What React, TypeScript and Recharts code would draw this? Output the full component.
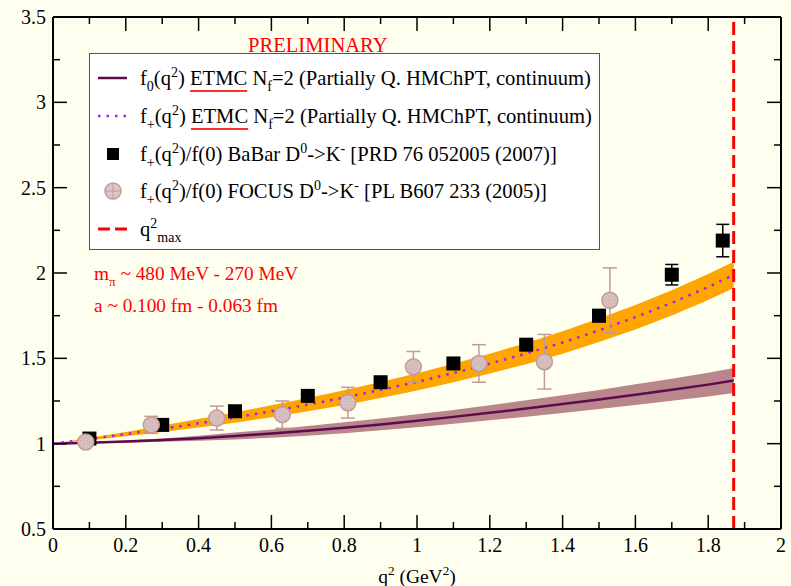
import React from 'react';
import {
  ComposedChart,
  XAxis,
  YAxis,
  Area,
  Line,
  Scatter,
  ErrorBar,
  ReferenceLine,
} from 'recharts';

// curve samples (q^2 in GeV^2)
const q2Grid = [0, 0.1, 0.2, 0.3, 0.4, 0.5, 0.6, 0.7, 0.8, 0.9, 1.0, 1.1, 1.2, 1.3, 1.4, 1.5, 1.6, 1.7, 1.8, 1.87];
const f0Mid = [1.0, 1.005, 1.012, 1.021, 1.032, 1.045, 1.059, 1.075, 1.093, 1.113, 1.134, 1.157, 1.181, 1.206, 1.232, 1.259, 1.287, 1.316, 1.346, 1.37];
const f0Lo = [1.0, 1.002, 1.006, 1.011, 1.017, 1.025, 1.035, 1.047, 1.061, 1.078, 1.096, 1.116, 1.137, 1.158, 1.18, 1.203, 1.226, 1.251, 1.276, 1.297];
const f0Hi = [1.0, 1.008, 1.018, 1.031, 1.047, 1.065, 1.083, 1.103, 1.125, 1.148, 1.172, 1.198, 1.225, 1.254, 1.284, 1.315, 1.348, 1.381, 1.416, 1.443];
const fpMid = [1.0, 1.027, 1.056, 1.087, 1.119, 1.153, 1.19, 1.229, 1.27, 1.315, 1.362, 1.414, 1.469, 1.528, 1.593, 1.664, 1.741, 1.825, 1.918, 1.989];
const fpLo = [1.0, 1.02, 1.043, 1.068, 1.094, 1.123, 1.155, 1.19, 1.227, 1.268, 1.312, 1.36, 1.411, 1.466, 1.527, 1.595, 1.669, 1.751, 1.842, 1.912];
const fpHi = [1.0, 1.034, 1.069, 1.106, 1.144, 1.183, 1.225, 1.268, 1.313, 1.362, 1.412, 1.468, 1.527, 1.59, 1.659, 1.733, 1.813, 1.899, 1.994, 2.066];

// BaBar D0->K-
const babarQ2 = [0.1, 0.3, 0.5, 0.7, 0.9, 1.1, 1.3, 1.5, 1.7, 1.84];
const babarVal = [1.03, 1.11, 1.19, 1.28, 1.36, 1.47, 1.58, 1.75, 1.99, 2.19];
const babarErr = [0.01, 0.01, 0.015, 0.02, 0.02, 0.025, 0.03, 0.035, 0.06, 0.095];

// FOCUS D0->K-
const focusQ2 = [0.09, 0.27, 0.45, 0.63, 0.81, 0.99, 1.17, 1.35, 1.53];
const focusVal = [1.01, 1.11, 1.15, 1.17, 1.24, 1.45, 1.47, 1.48, 1.84];
const focusErr = [0.02, 0.05, 0.07, 0.08, 0.09, 0.09, 0.11, 0.16, 0.19];

const qmax = 1.87;

const xTicks = [0, 0.1, 0.2, 0.3, 0.4, 0.5, 0.6, 0.7, 0.8, 0.9, 1, 1.1, 1.2, 1.3, 1.4, 1.5, 1.6, 1.7, 1.8, 1.9, 2];
const yTicks = [0.5, 0.75, 1, 1.25, 1.5, 1.75, 2, 2.25, 2.5, 2.75, 3, 3.25, 3.5];

const curve = q2Grid.map((q, i) => ({
  q2: q,
  f0: f0Mid[i],
  f0Band: [f0Lo[i], f0Hi[i]],
  fp: fpMid[i],
  fpBand: [fpLo[i], fpHi[i]],
}));
const babar = babarQ2.map((q, i) => ({ q2: q, v: babarVal[i], err: babarErr[i] }));
const focus = focusQ2.map((q, i) => ({ q2: q, v: focusVal[i], err: focusErr[i] }));

const SERIF = "'Liberation Serif', 'Times New Roman', serif";
const BG = '#fffff0';
const F0_COLOR = '#5c0b4f';
const F0_BAND = '#b8868b';
const FP_BAND = '#ffa500';
const FP_DOTS = '#a020f0';
const FOCUS_FILL = '#dcc6c6';
const FOCUS_EDGE = '#c29a9a';

const fmt = (v: number) => String(parseFloat(v.toFixed(2)));
const isMajorX = (v: number) => Math.round(v * 10) % 2 === 0;
const isMajorY = (v: number) => Math.round(v * 4) % 2 === 0;

const BottomTick = (p: any) => {
  const { x, y, payload } = p;
  const major = isMajorX(payload.value);
  return (
    <g>
      <line x1={x} y1={y} x2={x} y2={y - (major ? 14 : 7)} stroke="#000" strokeWidth={1.5} />
      {major && (
        <text x={x} y={y + 23} textAnchor="middle" fontSize={20} fontFamily={SERIF} fill="#000">
          {fmt(payload.value)}
        </text>
      )}
    </g>
  );
};

const TopTick = (p: any) => {
  const { x, y, payload } = p;
  const major = isMajorX(payload.value);
  return <line x1={x} y1={y} x2={x} y2={y + (major ? 14 : 7)} stroke="#000" strokeWidth={1.5} />;
};

const LeftTick = (p: any) => {
  const { x, y, payload } = p;
  const major = isMajorY(payload.value);
  return (
    <g>
      <line x1={x} y1={y} x2={x + (major ? 14 : 7)} y2={y} stroke="#000" strokeWidth={1.5} />
      {major && (
        <text x={x - 7} y={y} dy="0.35em" textAnchor="end" fontSize={20} fontFamily={SERIF} fill="#000">
          {fmt(payload.value)}
        </text>
      )}
    </g>
  );
};

const RightTick = (p: any) => {
  const { x, y, payload } = p;
  const major = isMajorY(payload.value);
  return <line x1={x} y1={y} x2={x - (major ? 14 : 7)} y2={y} stroke="#000" strokeWidth={1.5} />;
};

const SquareDot = (p: any) => {
  const { cx, cy } = p;
  if (cx == null || cy == null) return null;
  return <rect x={cx - 7} y={cy - 7} width={14} height={14} fill="#000" />;
};

const FocusDot = (p: any) => {
  const { cx, cy } = p;
  if (cx == null || cy == null) return null;
  return <circle cx={cx} cy={cy} r={8} fill="url(#hatch)" stroke={FOCUS_EDGE} strokeWidth={1.5} />;
};

const Sub = ({ children }: { children: React.ReactNode }) => (
  <span style={{ fontSize: '0.68em', position: 'relative', top: 6 }}>{children}</span>
);
const Sup = ({ children }: { children: React.ReactNode }) => (
  <span style={{ fontSize: '0.68em', position: 'relative', top: -8 }}>{children}</span>
);
const Etmc = () => (
  <span
    style={{
      textDecoration: 'underline',
      textDecorationColor: '#ff3030',
      textUnderlineOffset: 5,
      textDecorationThickness: 1.5,
    }}
  >
    ETMC
  </span>
);

const legendRows: { center: number; symbol: React.ReactNode; label: React.ReactNode }[] = [
  {
    center: 24,
    symbol: <line x1={0} y1={10} x2={29} y2={10} stroke={F0_COLOR} strokeWidth={2.5} />,
    label: (
      <>
        f<Sub>0</Sub>(q<Sup>2</Sup>) <Etmc /> N<Sub>f</Sub>=2 (Partially Q. HMChPT, continuum)
      </>
    ),
  },
  {
    center: 62,
    symbol: <line x1={0} y1={10} x2={29} y2={10} stroke={FP_DOTS} strokeWidth={2.5} strokeDasharray="2.5 6" />,
    label: (
      <>
        f<Sub>+</Sub>(q<Sup>2</Sup>) <Etmc /> N<Sub>f</Sub>=2 (Partially Q. HMChPT, continuum)
      </>
    ),
  },
  {
    center: 100,
    symbol: <rect x={9} y={4} width={12} height={12} fill="#000" />,
    label: (
      <>
        f<Sub>+</Sub>(q<Sup>2</Sup>)/f(0) BaBar D<Sup>0</Sup>-&gt;K<Sup>-</Sup> [PRD 76 052005 (2007)]
      </>
    ),
  },
  {
    center: 137,
    symbol: (
      <g>
        <circle cx={15} cy={10} r={8} fill={FOCUS_FILL} stroke={FOCUS_EDGE} strokeWidth={1.5} />
        <line x1={7} y1={10} x2={23} y2={10} stroke={FOCUS_EDGE} strokeWidth={1} />
        <line x1={15} y1={2} x2={15} y2={18} stroke={FOCUS_EDGE} strokeWidth={1} />
      </g>
    ),
    label: (
      <>
        f<Sub>+</Sub>(q<Sup>2</Sup>)/f(0) FOCUS D<Sup>0</Sup>-&gt;K<Sup>-</Sup> [PL B607 233 (2005)]
      </>
    ),
  },
  {
    center: 175,
    symbol: (
      <g>
        <line x1={0} y1={10} x2={12} y2={10} stroke="#ff0000" strokeWidth={3} />
        <line x1={17} y1={10} x2={29} y2={10} stroke="#ff0000" strokeWidth={3} />
      </g>
    ),
    label: (
      <>
        q<Sup>2</Sup>
        <Sub>max</Sub>
      </>
    ),
  },
];

export default function App() {
  return (
    <div
      style={{
        position: 'absolute',
        left: 0,
        top: 0,
        width: 791,
        height: 586,
        background: BG,
        fontFamily: SERIF,
        overflow: 'hidden',
      }}
    >
      <ComposedChart width={791} height={586} data={curve} margin={{ top: 0, right: 0, bottom: 0, left: 0 }}>
        <defs>
          <pattern id="hatch" width="3" height="3" patternUnits="userSpaceOnUse">
            <rect width="3" height="3" fill={FOCUS_FILL} />
            <path d="M0 0 L3 3 M3 0 L0 3" stroke="#c9aeae" strokeWidth={0.6} />
          </pattern>
        </defs>
        <XAxis
          dataKey="q2"
          type="number"
          domain={[0, 2]}
          ticks={xTicks}
          interval={0}
          height={57}
          tickSize={0}
          tickMargin={0}
          tick={(p: any) => <BottomTick {...p} />}
          axisLine={{ stroke: '#000', strokeWidth: 2 }}
          allowDataOverflow
        />
        <XAxis
          xAxisId="top"
          dataKey="q2"
          orientation="top"
          type="number"
          domain={[0, 2]}
          ticks={xTicks}
          interval={0}
          height={17}
          tickSize={0}
          tickMargin={0}
          tick={(p: any) => <TopTick {...p} />}
          axisLine={{ stroke: '#000', strokeWidth: 2 }}
          allowDataOverflow
        />
        <YAxis
          type="number"
          domain={[0.5, 3.5]}
          ticks={yTicks}
          interval={0}
          width={53}
          tickSize={0}
          tickMargin={0}
          tick={(p: any) => <LeftTick {...p} />}
          axisLine={{ stroke: '#000', strokeWidth: 2 }}
          allowDataOverflow
        />
        <YAxis
          yAxisId="right"
          orientation="right"
          type="number"
          domain={[0.5, 3.5]}
          ticks={yTicks}
          interval={0}
          width={10}
          tickSize={0}
          tickMargin={0}
          tick={(p: any) => <RightTick {...p} />}
          axisLine={{ stroke: '#000', strokeWidth: 2 }}
          allowDataOverflow
        />
        {/* carrier series so the mirrored frame axes get a scale */}
        <Line
          xAxisId="top"
          yAxisId="right"
          dataKey="fp"
          stroke="transparent"
          strokeWidth={0}
          dot={false}
          activeDot={false}
          legendType="none"
          isAnimationActive={false}
        />
        <Area
          dataKey="f0Band"
          stroke="none"
          fill={F0_BAND}
          fillOpacity={1}
          isAnimationActive={false}
          activeDot={false}
        />
        <Line dataKey="f0" stroke={F0_COLOR} strokeWidth={2.5} dot={false} activeDot={false} isAnimationActive={false} />
        <Area
          dataKey="fpBand"
          stroke="none"
          fill={FP_BAND}
          fillOpacity={1}
          isAnimationActive={false}
          activeDot={false}
        />
        <Line
          dataKey="fp"
          stroke={FP_DOTS}
          strokeWidth={2.5}
          strokeDasharray="2.5 6"
          dot={false}
          activeDot={false}
          isAnimationActive={false}
        />
        <ReferenceLine x={qmax} stroke="#ff0000" strokeWidth={3} strokeDasharray="13 6" />
        <Scatter data={babar} dataKey="v" shape={(p: any) => <SquareDot {...p} />} isAnimationActive={false}>
          <ErrorBar dataKey="err" direction="y" width={6.5} stroke="#000" strokeWidth={1.5} />
        </Scatter>
        <Scatter data={focus} dataKey="v" shape={(p: any) => <FocusDot {...p} />} isAnimationActive={false}>
          <ErrorBar dataKey="err" direction="y" width={7} stroke={FOCUS_EDGE} strokeWidth={1.5} />
        </Scatter>
      </ComposedChart>

      <div
        style={{
          position: 'absolute',
          left: 248,
          top: 33,
          fontSize: 20.6,
          lineHeight: '24px',
          color: '#ff0000',
          whiteSpace: 'nowrap',
        }}
      >
        PRELIMINARY
      </div>

      <div
        style={{
          position: 'absolute',
          left: 89,
          top: 53,
          width: 511,
          height: 197,
          boxSizing: 'border-box',
          background: '#fff',
          border: '1.5px solid #555',
        }}
      >
        {legendRows.map((r, i) => (
          <React.Fragment key={i}>
            <svg
              width={30}
              height={20}
              style={{ position: 'absolute', left: 8, top: r.center - 10 }}
            >
              {r.symbol}
            </svg>
            <div
              style={{
                position: 'absolute',
                left: 50,
                top: r.center - 12,
                fontSize: 20.6,
                lineHeight: '24px',
                whiteSpace: 'nowrap',
                color: '#000',
              }}
            >
              {r.label}
            </div>
          </React.Fragment>
        ))}
      </div>

      <div style={{ position: 'absolute', left: 94, top: 262, fontSize: 19.3, lineHeight: '24px', color: '#ff0000', whiteSpace: 'nowrap' }}>
        m<Sub>π</Sub> ~ 480 MeV - 270 MeV
      </div>
      <div style={{ position: 'absolute', left: 94, top: 294, fontSize: 19.3, lineHeight: '24px', color: '#ff0000', whiteSpace: 'nowrap' }}>
        a ~ 0.100 fm - 0.063 fm
      </div>

      <div
        style={{
          position: 'absolute',
          left: 317,
          width: 200,
          top: 565,
          fontSize: 19.5,
          lineHeight: '24px',
          textAlign: 'center',
          whiteSpace: 'nowrap',
          color: '#000',
        }}
      >
        q<Sup>2</Sup> (GeV<Sup>2</Sup>)
      </div>
    </div>
  );
}
